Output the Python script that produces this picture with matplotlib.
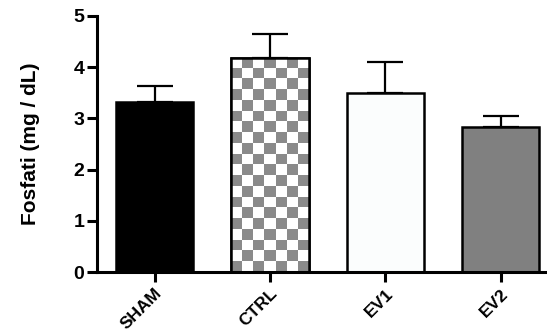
import numpy as np
import matplotlib.pyplot as plt
from matplotlib.colors import ListedColormap
from matplotlib.patches import Rectangle

plt.rcParams['font.family'] = ['Liberation Sans', 'DejaVu Sans']

groups = ['SHAM', 'CTRL', 'EV1', 'EV2']
means = [3.32, 4.18, 3.50, 2.83]
sem = [0.31, 0.47, 0.60, 0.22]
fills = ['#000000', 'checker', '#fbfdfd', '#808080']

fig = plt.figure(figsize=(5.47, 3.33), dpi=100)
ax = fig.add_axes([0.177, 0.183, 0.823, 0.769])

x = np.arange(len(groups))
bars = ax.bar(x, means, width=0.67, color=[c if c != 'checker' else 'white' for c in fills],
              edgecolor='black', linewidth=1.8, zorder=2)
ax.errorbar(x, means, yerr=[np.zeros(len(sem)), sem], fmt='none', ecolor='black',
            elinewidth=1.6, capsize=13, capthick=1.6, zorder=1)

# checkerboard fill for CTRL
for b, f in zip(bars, fills):
    if f != 'checker':
        continue
    x0, w, h = b.get_x(), b.get_width(), b.get_height()
    nx, ny = 7, 20
    board = np.indices((ny, nx)).sum(axis=0) % 2
    img = ax.imshow(board, cmap=ListedColormap(['white', '#8a8a8a']),
                    extent=[x0, x0 + w, 0, h], aspect='auto', interpolation='nearest',
                    zorder=2.1)
    img.set_clip_path(b)
    ax.add_patch(Rectangle((x0, 0), w, h, fill=False, edgecolor='black', linewidth=1.8, zorder=2.2))

ax.set_xlim(-0.5, 3.4)
ax.set_ylim(0, 5)

ax.spines['top'].set_visible(False)
ax.spines['right'].set_visible(False)
ax.spines['left'].set_linewidth(2.2)
ax.spines['bottom'].set_linewidth(2.2)

ax.set_xticks(x)
ax.set_xticklabels(groups, rotation=45, ha='right', rotation_mode='anchor',
                   fontsize=12.5, fontweight='bold')
ax.set_yticks(range(6))
ax.tick_params(axis='y', labelsize=14, width=2.2, length=7, pad=2)
ax.tick_params(axis='x', width=2.2, length=7, pad=3)
for t in ax.get_yticklabels():
    t.set_fontweight('bold')
ax.set_ylabel('Fosfati (mg / dL)', fontsize=15, fontweight='bold', labelpad=24)

fig.savefig('out.png', dpi=100)
